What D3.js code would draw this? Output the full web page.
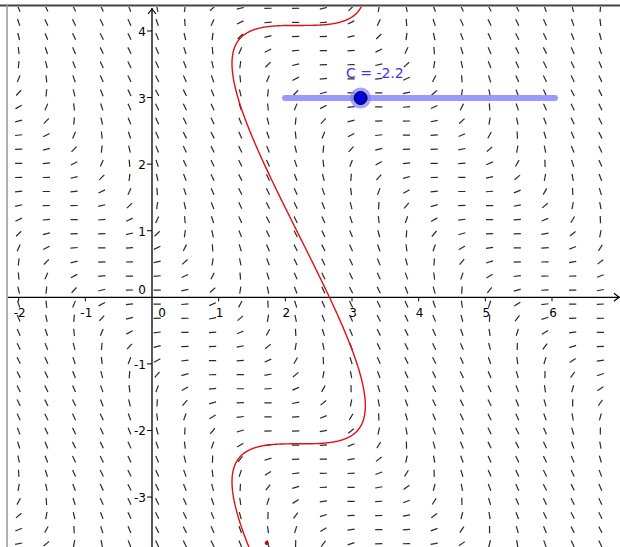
<!DOCTYPE html>
<html>
<head>
<meta charset="utf-8">
<script src="https://cdn.jsdelivr.net/npm/d3@7"></script>
<style>
  body { margin: 0; background: #fff; }
  svg { display: block; font-family: "DejaVu Sans", sans-serif; }
</style>
</head>
<body>
<div id="chart"></div>
<script>
// slider value and range (C = -2.2 on a -5..5 slider)
var sliderMin = -5, sliderMax = 5, cValue = -2.2;
var xTicks = [-2, -1, 0, 1, 2, 3, 4, 5, 6];
var yTicks = [-3, -2, -1, 0, 1, 2, 3, 4];
var xLabels = ["-2", "-1", "0", "1", "2", "3", "4", "5", "6"];
var yLabels = ["-3", "-2", "-1", "0", "1", "2", "3", "4"];
// extra point seen near the bottom of the curve
var redPoint = [1.72, -3.69];

var W = 620, H = 547;

var svg = d3.select("#chart").append("svg")
    .attr("width", W).attr("height", H);

var x = d3.scaleLinear().domain([-2.16, 7.02]).range([8, 620]);
var y = d3.scaleLinear().domain([4.36, -3.75]).range([7, 547]);

svg.append("clipPath").attr("id", "clip")
  .append("rect").attr("x", 8).attr("y", 7).attr("width", W - 8).attr("height", H - 7);

var plot = svg.append("g").attr("clip-path", "url(#clip)");

// slope field dy/dx = 1/cos(x+y) - 1  (family sin(x+y) = x + C)
function slope(px, py) { return 1 / Math.cos(px + py) - 1; }

var cols = d3.range(22).map(function(i) { return -2.0 + i * 0.4155; });
var rows = d3.range(39).map(function(j) { return 4.34 - j * 0.2116; });
var field = [];
cols.forEach(function(cx) {
  rows.forEach(function(cy) { field.push([cx, cy]); });
});

var half = 3.6;
plot.append("g").selectAll("line")
  .data(field)
  .enter()
  .append("line")
  .attr("x1", function(d) { var a = Math.atan(slope(d[0], d[1])); return x(d[0]) - half * Math.cos(a); })
  .attr("x2", function(d) { var a = Math.atan(slope(d[0], d[1])); return x(d[0]) + half * Math.cos(a); })
  .attr("y1", function(d) { var a = Math.atan(slope(d[0], d[1])); return y(d[1]) + half * Math.sin(a); })
  .attr("y2", function(d) { var a = Math.atan(slope(d[0], d[1])); return y(d[1]) - half * Math.sin(a); })
  .attr("stroke", "#2a2a2a")
  .attr("stroke-width", 1.2);

// axes
plot.append("line")
  .attr("x1", 8).attr("x2", W).attr("y1", y(0)).attr("y2", y(0))
  .attr("stroke", "#000").attr("stroke-width", 1.3);
plot.append("line")
  .attr("x1", x(0)).attr("x2", x(0)).attr("y1", 8).attr("y2", H)
  .attr("stroke", "#000").attr("stroke-width", 1.3);
// arrow heads
plot.append("path")
  .attr("d", "M" + (x(0) - 4) + "," + 14 + "L" + x(0) + "," + 9 + "L" + (x(0) + 4) + "," + 14)
  .attr("fill", "none").attr("stroke", "#000").attr("stroke-width", 1.2);
plot.append("path")
  .attr("d", "M" + (W - 6) + "," + (y(0) - 4) + "L" + (W - 1) + "," + y(0) + "L" + (W - 6) + "," + (y(0) + 4))
  .attr("fill", "none").attr("stroke", "#000").attr("stroke-width", 1.2);

// ticks and labels
plot.append("g").selectAll("line")
  .data(xTicks.filter(function(d) { return d !== 0; }))
  .enter().append("line")
  .attr("x1", function(d) { return x(d); }).attr("x2", function(d) { return x(d); })
  .attr("y1", y(0)).attr("y2", y(0) + 4)
  .attr("stroke", "#000");
plot.append("g").selectAll("text")
  .data(xTicks)
  .enter().append("text")
  .attr("x", function(d) { return d === 0 ? x(0) + 10 : x(d) + 1; })
  .attr("y", y(0) + 20)
  .attr("text-anchor", "middle")
  .attr("font-size", 12)
  .text(function(d, i) { return xLabels[i]; });

plot.append("g").selectAll("line")
  .data(yTicks.filter(function(d) { return d !== 0; }))
  .enter().append("line")
  .attr("x1", x(0) - 5).attr("x2", x(0))
  .attr("y1", function(d) { return y(d); }).attr("y2", function(d) { return y(d); })
  .attr("stroke", "#000");
plot.append("g").selectAll("text")
  .data(yTicks)
  .enter().append("text")
  .attr("x", x(0) - 6)
  .attr("y", function(d) { return d === 0 ? y(0) - 3 : y(d) + 5; })
  .attr("text-anchor", "end")
  .attr("font-size", 12)
  .text(function(d, i) { return yLabels[i]; });

// solution curve sin(x+y) = x + C, parametrised by u = x + y
var us = d3.range(-2.6, 7.9, 0.01);
var curve = us.map(function(u) { var cx = Math.sin(u) - cValue; return [cx, u - cx]; });
plot.append("path")
  .datum(curve)
  .attr("d", d3.line().x(function(d) { return x(d[0]); }).y(function(d) { return y(d[1]); }))
  .attr("fill", "none")
  .attr("stroke", "#e01010")
  .attr("stroke-width", 1.4);

plot.append("circle")
  .attr("cx", x(redPoint[0])).attr("cy", y(redPoint[1])).attr("r", 2)
  .attr("fill", "#d00000");

// slider
var s = d3.scaleLinear().domain([sliderMin, sliderMax]).range([285, 555]);
svg.append("line")
  .attr("x1", s(sliderMin)).attr("x2", s(sliderMax)).attr("y1", 98).attr("y2", 98)
  .attr("stroke", "#9999ff").attr("stroke-width", 6).attr("stroke-linecap", "round");
svg.append("circle")
  .attr("cx", s(cValue)).attr("cy", 98).attr("r", 10.5)
  .attr("fill", "#7f7fff").attr("opacity", 0.7);
svg.append("circle")
  .attr("cx", s(cValue)).attr("cy", 98).attr("r", 6.5)
  .attr("fill", "#0000dd").attr("stroke", "#000").attr("stroke-width", 1);
svg.append("text")
  .attr("x", 346).attr("y", 78)
  .attr("fill", "#3a3ae0")
  .attr("font-size", 14)
  .text("C = " + cValue);

// frame
svg.append("line").attr("x1", 0).attr("x2", W).attr("y1", 5.5).attr("y2", 5.5)
  .attr("stroke", "#444").attr("stroke-width", 2);
svg.append("line").attr("x1", 7).attr("x2", 7).attr("y1", 5).attr("y2", H)
  .attr("stroke", "#999").attr("stroke-width", 1.5);
</script>
</body>
</html>
